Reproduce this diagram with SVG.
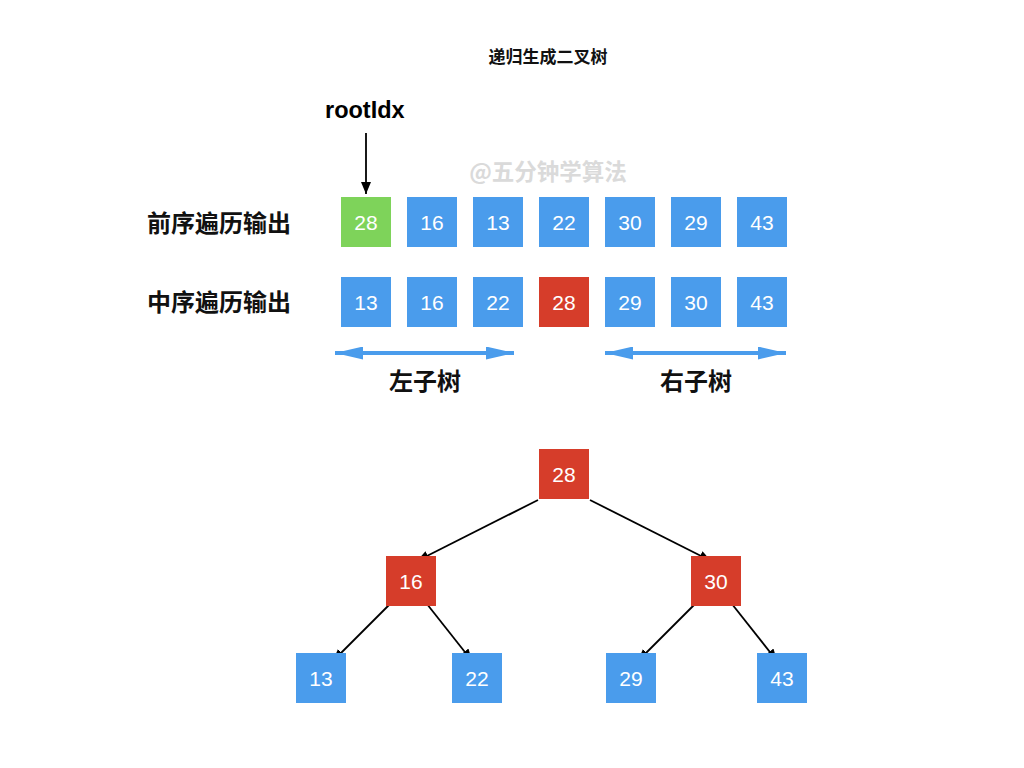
<svg xmlns="http://www.w3.org/2000/svg" width="1024" height="768" viewBox="0 0 1024 768">
<defs>
<style>
.blue{fill:#4A9CEC}
.red{fill:#D63D2A}
.green{fill:#7ED35A}
.num{font-family:"Liberation Sans",Arial,sans-serif;font-size:21px;fill:#fff;text-anchor:middle}
.cn{font-family:"Noto Sans CJK SC","Noto Sans",sans-serif;font-weight:bold;fill:#111}
.title{font-family:"Noto Sans CJK SC","Noto Sans",sans-serif;font-weight:bold;fill:#111}
.edge{stroke:#000;stroke-width:1.8;fill:none;marker-end:url(#ah)}
.span{stroke:#4A9CEC;stroke-width:4;fill:none;marker-start:url(#bs);marker-end:url(#be)}
</style>
<marker id="ah" markerWidth="14" markerHeight="12" refX="12" refY="5" orient="auto" markerUnits="userSpaceOnUse">
<path d="M0,0 L12,5 L0,10 Z" fill="#000"/>
</marker>
<marker id="be" markerWidth="30" markerHeight="14" refX="28" refY="6.5" orient="auto" markerUnits="userSpaceOnUse">
<path d="M0,0 L28,6.5 L0,13 Z" fill="#4A9CEC"/>
</marker>
<marker id="bs" markerWidth="30" markerHeight="14" refX="0" refY="6.5" orient="auto" markerUnits="userSpaceOnUse">
<path d="M28,0 L0,6.5 L28,13 Z" fill="#4A9CEC"/>
</marker>
</defs>
<rect width="1024" height="768" fill="#fff"/>

<text x="548" y="63" class="title" font-size="17" text-anchor="middle">递归生成二叉树</text>
<text x="325" y="118" font-family="Liberation Sans,Arial,sans-serif" font-weight="bold" font-size="23.5" fill="#000">rootIdx</text>
<text x="548" y="180" class="cn" font-size="22.5" text-anchor="middle" style="fill:#DADADA">@五分钟学算法</text>
<text x="147" y="232" class="cn" font-size="24">前序遍历输出</text>
<text x="147" y="311" class="cn" font-size="24">中序遍历输出</text>
<text x="425" y="390" class="cn" font-size="24" text-anchor="middle">左子树</text>
<text x="696" y="390" class="cn" font-size="24" text-anchor="middle">右子树</text>

<g id="connectors">
<line x1="366" y1="133" x2="366" y2="194" class="edge"/>
<line x1="335" y1="353" x2="514" y2="353" class="span"/>
<line x1="605" y1="353" x2="786" y2="353" class="span"/>
<line x1="538" y1="500" x2="417" y2="561" class="edge"/>
<line x1="590" y1="500" x2="711" y2="561" class="edge"/>
<line x1="398" y1="596" x2="333" y2="661" class="edge"/>
<line x1="423" y1="599" x2="472" y2="661" class="edge"/>
<line x1="703" y1="596" x2="638" y2="661" class="edge"/>
<line x1="728" y1="599" x2="777" y2="661" class="edge"/>
</g>

<g id="pre0"><rect x="341" y="197" width="50" height="50" class="green"/><text x="366" y="230" class="num">28</text></g>
<g id="pre1"><rect x="407" y="197" width="50" height="50" class="blue"/><text x="432" y="230" class="num">16</text></g>
<g id="pre2"><rect x="473" y="197" width="50" height="50" class="blue"/><text x="498" y="230" class="num">13</text></g>
<g id="pre3"><rect x="539" y="197" width="50" height="50" class="blue"/><text x="564" y="230" class="num">22</text></g>
<g id="pre4"><rect x="605" y="197" width="50" height="50" class="blue"/><text x="630" y="230" class="num">30</text></g>
<g id="pre5"><rect x="671" y="197" width="50" height="50" class="blue"/><text x="696" y="230" class="num">29</text></g>
<g id="pre6"><rect x="737" y="197" width="50" height="50" class="blue"/><text x="762" y="230" class="num">43</text></g>

<g id="in0"><rect x="341" y="277" width="50" height="50" class="blue"/><text x="366" y="310" class="num">13</text></g>
<g id="in1"><rect x="407" y="277" width="50" height="50" class="blue"/><text x="432" y="310" class="num">16</text></g>
<g id="in2"><rect x="473" y="277" width="50" height="50" class="blue"/><text x="498" y="310" class="num">22</text></g>
<g id="in3"><rect x="539" y="277" width="50" height="50" class="red"/><text x="564" y="310" class="num">28</text></g>
<g id="in4"><rect x="605" y="277" width="50" height="50" class="blue"/><text x="630" y="310" class="num">29</text></g>
<g id="in5"><rect x="671" y="277" width="50" height="50" class="blue"/><text x="696" y="310" class="num">30</text></g>
<g id="in6"><rect x="737" y="277" width="50" height="50" class="blue"/><text x="762" y="310" class="num">43</text></g>

<g id="t28"><rect x="539" y="449" width="50" height="50" class="red"/><text x="564" y="482" class="num">28</text></g>
<g id="t16"><rect x="386" y="556" width="50" height="50" class="red"/><text x="411" y="589" class="num">16</text></g>
<g id="t30"><rect x="691" y="556" width="50" height="50" class="red"/><text x="716" y="589" class="num">30</text></g>
<g id="t13"><rect x="296" y="653" width="50" height="50" class="blue"/><text x="321" y="686" class="num">13</text></g>
<g id="t22"><rect x="452" y="653" width="50" height="50" class="blue"/><text x="477" y="686" class="num">22</text></g>
<g id="t29"><rect x="606" y="653" width="50" height="50" class="blue"/><text x="631" y="686" class="num">29</text></g>
<g id="t43"><rect x="757" y="653" width="50" height="50" class="blue"/><text x="782" y="686" class="num">43</text></g>
</svg>
